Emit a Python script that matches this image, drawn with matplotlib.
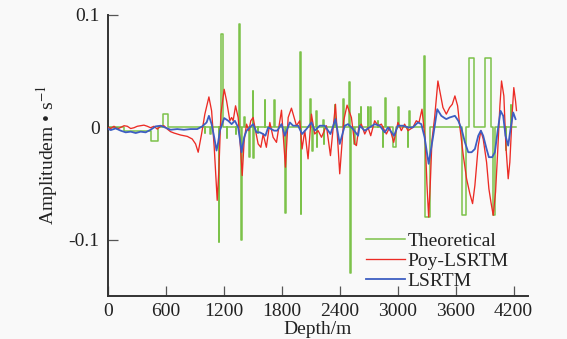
import matplotlib
matplotlib.use("Agg")
import matplotlib.pyplot as plt

plt.rcParams["font.family"] = ["Liberation Serif", "DejaVu Serif"]
plt.rcParams["mathtext.fontset"] = "stix"

# Theoretical reflectivity: step edges (depth where a level starts, level value)
theo_depth = [0, 165, 441, 517, 572, 621, 1000, 1006, 1060, 1066,
              1145, 1150, 1166, 1186, 1230, 1235, 1322, 1327, 1356, 1362,
              1380, 1385, 1412, 1417, 1463, 1468, 1498, 1506, 1512, 1550,
              1555, 1622, 1627, 1720, 1725, 1838, 1843, 1990, 1998, 2003,
              2094, 2099, 2116, 2121, 2152, 2160, 2165, 2227, 2235, 2240,
              2347, 2352, 2438, 2443, 2500, 2508, 2513, 2552, 2557, 2597,
              2602, 2617, 2622, 2692, 2697, 2718, 2723, 2792, 2797, 2845,
              2850, 2870, 2875, 2948, 2978, 3007, 3012, 3104, 3109, 3122,
              3127, 3277, 3287, 3340, 3662, 3703, 3734, 3793, 3903, 3965,
              3983, 4007, 4122, 4127, 4174, 4179, 4230]
theo_amp = [0, -0.0035, -0.0118, 0, 0.0118, 0, -0.005, 0, -0.006, 0,
            -0.102, 0, 0.083, 0, -0.009, 0, -0.006, 0, 0.092, 0,
            -0.100, 0, 0.009, 0, -0.0265, 0, 0.0325, -0.027, 0, -0.005,
            0, 0.0245, 0, 0.0245, 0, -0.0758, 0, 0.0667, -0.077, 0,
            0.025, 0, -0.0206, 0, 0.0148, -0.0177, 0, 0.007, -0.0148, 0,
            0.020, 0, 0.025, 0, 0.040, -0.1295, 0, -0.015, 0, 0.012,
            0, 0.0177, 0, 0.0177, 0, 0.0177, 0, 0.006, 0, -0.0177,
            0, 0.026, 0, -0.0177, 0, 0.0177, 0, -0.0177, 0, 0.015,
            0, 0.0637, -0.080, 0, -0.078, 0, 0.062, 0, 0.062, 0,
            -0.078, 0, -0.020, 0, 0.020, 0, 0]

# Poy-LSRTM result
poy_depth = [0, 28, 62, 96, 131, 166, 200, 235, 269, 303, 338, 372, 407, 441,
             476, 510, 545, 579, 614, 648, 683, 752, 821, 872, 907, 934, 969,
             1003, 1045, 1073, 1100, 1114, 1131, 1148, 1169, 1203, 1228, 1262,
             1280, 1296, 1321, 1348, 1372, 1390, 1410, 1435, 1459, 1479, 1503,
             1528, 1555, 1583, 1607, 1640, 1676, 1710, 1745, 1797, 1838, 1866,
             1900, 1952, 1986, 2010, 2038, 2072, 2107, 2141, 2176, 2211, 2262,
             2304, 2356, 2400, 2441, 2476, 2521, 2555, 2573, 2597, 2624, 2659,
             2693, 2721, 2762, 2797, 2831, 2883, 2917, 2959, 3003, 3038, 3072,
             3107, 3158, 3193, 3221, 3252, 3286, 3303, 3321, 3338, 3355, 3383,
             3417, 3469, 3504, 3538, 3566, 3593, 3621, 3645, 3680, 3714, 3748,
             3776, 3800, 3835, 3862, 3886, 3921, 3945, 3966, 3990, 4014, 4034,
             4059, 4076, 4100, 4121, 4145, 4162, 4187, 4203, 4221, 4231]
poy_amp = [0.0, -0.001, 0.001, -0.0015, 0.0, 0.0015, 0.001, -0.001, -0.0003,
           0.001, 0.0015, 0.002, 0.001, -0.0003, 0.001, -0.0015, 0.001, 0.0015,
           -0.0015, -0.0038, -0.005, -0.0068, -0.008, -0.0103, -0.0147, -0.0221,
           -0.0059, 0.0118, 0.0271, 0.0147, -0.0177, -0.0383, -0.0649, -0.0383,
           0.0118, 0.0339, 0.0236, 0.0059, 0.0088, 0.0059, 0.0192, 0.0088,
           -0.0177, -0.0428, -0.0118, 0.0029, -0.0029, 0.0059, 0.0088, -0.0029,
           -0.0147, -0.0177, -0.0059, -0.0177, 0.0044, -0.0088, -0.0133, 0.0153,
           -0.0354, 0.0088, 0.0171, 0.0015, 0.0059, -0.0192, -0.0029, -0.0280,
           0.0118, -0.0059, -0.0029, -0.0088, 0.0015, -0.0251, 0.0206, -0.0413,
           0.0059, 0.0198, 0.0088, -0.0147, -0.0162, 0.0, 0.0029, -0.0059, 0.0,
           -0.0074, 0.0059, 0.0015, 0.0029, -0.0059, 0.0, -0.0133, 0.0044,
           -0.0029, 0.0029, -0.0029, 0.0, 0.0059, 0.0044, 0.0162, -0.0118,
           -0.050, -0.0797, -0.050, -0.0118, 0.0088, 0.0413, 0.0177, 0.0118,
           0.0177, 0.0206, 0.0280, 0.0192, 0.0, -0.0251, -0.0457, -0.0590,
           -0.0678, -0.0516, -0.0162, -0.0029, -0.0103, -0.0310, -0.0546,
           -0.0664, -0.0782, -0.0575, -0.0251, 0.0192, 0.0413, 0.0280, -0.0162,
           -0.0457, -0.0310, 0.0133, 0.0354, 0.0236, 0.015]

# Conventional LSRTM result
ls_depth = [0, 28, 80, 131, 183, 235, 287, 338, 390, 441, 493, 545, 597, 648,
            717, 786, 855, 924, 976, 1021, 1045, 1073, 1100, 1124, 1141, 1159,
            1203, 1245, 1280, 1314, 1348, 1366, 1383, 1410, 1435, 1469, 1503,
            1538, 1572, 1607, 1630, 1659, 1721, 1752, 1797, 1831, 1883, 1917,
            1969, 2010, 2055, 2107, 2141, 2193, 2245, 2304, 2356, 2400, 2452,
            2486, 2538, 2590, 2607, 2659, 2710, 2762, 2814, 2866, 2900, 2962,
            3003, 3055, 3107, 3158, 3210, 3245, 3279, 3321, 3366, 3410, 3452,
            3486, 3504, 3538, 3593, 3628, 3662, 3697, 3731, 3766, 3800, 3835,
            3862, 3886, 3921, 3945, 3979, 4007, 4034, 4066, 4093, 4117, 4145,
            4169, 4197, 4221]
ls_amp = [-0.0012, -0.0024, -0.0009, -0.0029, -0.0044, -0.0038, -0.0050,
          -0.0038, -0.0044, -0.0021, 0.0009, 0.0015, -0.0003, -0.0021, -0.0015,
          -0.0021, -0.0015, -0.0015, 0.0009, 0.0044, 0.0103, 0.0029, -0.0088,
          -0.0206, -0.0133, -0.0029, 0.0083, 0.0059, 0.0029, 0.0059, 0.0,
          -0.0103, -0.0221, -0.0088, -0.0029, 0.0, 0.0029, -0.0044, -0.0044,
          -0.0059, -0.0074, 0.0, -0.0029, -0.0029, 0.0029, -0.0074, 0.0044,
          0.0015, 0.0015, -0.0059, -0.0015, 0.0044, -0.0029, 0.0015, 0.0015,
          -0.0059, 0.0074, -0.0147, 0.0015, 0.0029, -0.0015, -0.0074, 0.0015,
          -0.0029, 0.0, 0.0029, 0.0015, -0.0044, 0.0, -0.0074, 0.0015, 0.0015,
          0.0, 0.0, 0.0044, 0.0029, -0.0088, -0.0324, -0.0088, 0.0162, 0.0103,
          0.0083, 0.0074, 0.0088, 0.0103, 0.0059, -0.0015, -0.0133, -0.0221,
          -0.0221, -0.0192, -0.0074, -0.0029, -0.0074, -0.0192, -0.0265,
          -0.0265, -0.0221, -0.0044, 0.0147, 0.0103, -0.0074, -0.0162, -0.0015,
          0.0133, 0.0074]

x_ticks = [0, 600, 1200, 1800, 2400, 3000, 3600, 4200]
y_ticks = [-0.1, 0, 0.1]
y_tick_labels = ["-0.1", "0", "0.1"]

bg = "#f9f9f9"
fig = plt.figure(figsize=(5.67, 3.39), dpi=100, facecolor=bg)
ax = fig.add_axes([0.1905, 0.1268, 0.7407, 0.829], facecolor=bg)

ax.plot(theo_depth, theo_amp, drawstyle="steps-post", color="#7cc24a",
        lw=1.1, label="Theoretical", zorder=2)
ax.plot(poy_depth, poy_amp, color="#ec2b25", lw=0.95, label="Poy-LSRTM", zorder=3)
ax.plot(ls_depth, ls_amp, color="#3d5ec2", lw=1.3, label="LSRTM", zorder=4)

ax.set_xlim(0, 4350)
ax.set_ylim(-0.15, 0.1)
ax.set_xticks(x_ticks)
ax.set_xticklabels([str(t) for t in x_ticks])
ax.set_yticks(y_ticks)
ax.set_yticklabels(y_tick_labels)

for side in ("top", "right"):
    ax.spines[side].set_visible(False)
for side in ("left", "bottom"):
    ax.spines[side].set_color("#333333")
    ax.spines[side].set_linewidth(1.4)

ax.tick_params(direction="in", length=7, width=0.9, colors="#555555",
               labelcolor="#222222", labelsize=14)
ax.tick_params(axis="x", pad=5)
ax.tick_params(axis="y", pad=6)

ax.set_xlabel("Depth/m", fontsize=14, color="#222222", labelpad=1)
ax.set_ylabel("Amplitudem • s$^{-1}$", fontsize=14, color="#222222", labelpad=6)

leg = ax.legend(loc="upper left", bbox_to_anchor=(0.595, 0.255),
                frameon=False, fontsize=14, handlelength=2.0,
                handletextpad=0.15, labelspacing=0.12, borderaxespad=0.0)
for t in leg.get_texts():
    t.set_color("#222222")

fig.savefig("out.png", dpi=100, facecolor=bg)
